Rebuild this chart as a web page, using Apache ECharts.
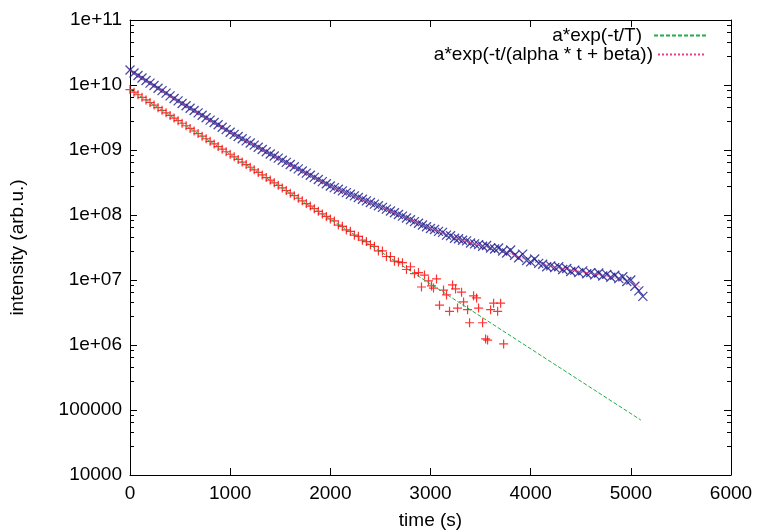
<!DOCTYPE html>
<html><head><meta charset="utf-8">
<script src="https://cdn.jsdelivr.net/npm/echarts@6/dist/echarts.min.js"></script>
<style>html,body{margin:0;padding:0;background:#fff}#c{width:757px;height:531px}</style>
</head><body><div id="c"></div>
<script>
const xTickValues = [0, 1000, 2000, 3000, 4000, 5000, 6000];
const yTickValues = [1e4, 1e5, 1e6, 1e7, 1e8, 1e9, 1e10, 1e11];
const yTickLabels = ['10000', '100000', '1e+06', '1e+07', '1e+08', '1e+09', '1e+10', '1e+11'];
const legendNames = ['a*exp(-t/T)', 'a*exp(-t/(alpha * t + beta))'];

const redTime = [0,40,80,120,160,200,240,280,320,360,400,440,480,520,560,600,640,680,720,760,800,840,880,920,960,
1000,1040,1080,1120,1160,1200,1240,1280,1320,1360,1400,1440,1480,1520,1560,1600,1640,1680,1720,1760,1800,1840,1880,1920,1960,
2000,2040,2080,2120,2160,2200,2240,2280,2320,2360,2400,2440,2480,2520,2560,2600,2640,2680,2720,2760,2800,2840,2880,
2910,2940,2980,3010,3030,3060,3090,3130,3160,3190,3220,3250,3270,3310,3330,3370,3390,3430,3460,3480,3520,3550,3570,3600,3630,3670,3700,3730];
const redIntensity = [8.5e9,7.76e9,7.08e9,6.46e9,5.89e9,5.38e9,4.91e9,4.48e9,4.08e9,3.73e9,3.40e9,3.10e9,2.83e9,2.58e9,2.36e9,2.15e9,1.96e9,1.79e9,1.63e9,1.49e9,1.36e9,1.24e9,1.13e9,1.03e9,9.4e8,
8.6e8,7.84e8,7.15e8,6.53e8,5.96e8,5.43e8,4.96e8,4.52e8,4.13e8,3.77e8,3.44e8,3.13e8,2.86e8,2.61e8,2.38e8,2.17e8,1.98e8,1.81e8,1.65e8,1.50e8,1.37e8,1.25e8,1.14e8,1.04e8,9.5e7,
8.7e7,8.1e7,7.0e7,6.7e7,5.9e7,5.6e7,4.9e7,4.7e7,4.1e7,3.9e7,3.5e7,3.3e7,2.8e7,2.8e7,2.3e7,2.3e7,1.95e7,1.9e7,1.85e7,1.45e7,1.6e7,1.25e7,1.3e7,
7.8e6,1.19e7,9.7e6,8.1e6,7.5e6,1.04e7,4.1e6,7.0e6,5.9e6,3.3e6,8.4e6,7.3e6,3.7e6,6.5e6,4.6e6,3.5e6,2.2e6,5.7e6,5.3e6,3.7e6,2.2e6,1.24e6,1.19e6,3.5e6,4.4e6,3.3e6,4.4e6,1.04e6];

const blueTime = [0,40,80,120,160,200,240,280,320,360,400,440,480,520,560,600,640,680,720,760,800,840,880,920,960,
1000,1040,1080,1120,1160,1200,1240,1280,1320,1360,1400,1440,1480,1520,1560,1600,1640,1680,1720,1760,1800,1840,1880,1920,1960,
2000,2040,2080,2120,2160,2200,2240,2280,2320,2360,2400,2440,2480,2520,2560,2600,2640,2680,2720,2760,2800,2840,2880,2920,2960,
3000,3040,3080,3120,3160,3200,3240,3280,3320,3360,3400,3440,3480,3520,3560,3600,3640,3680,3720,3760,3800,3840,3880,3920,3960,
4000,4040,4080,4120,4160,4200,4240,4280,4320,4360,4400,4440,4480,4520,4560,4600,4640,4680,4720,4760,4800,4840,4880,4920,4960,
5000,5040,5080,5120];
const blueIntensity = [1.70e10,1.53e10,1.40e10,1.28e10,1.17e10,1.07e10,9.8e9,8.9e9,8.2e9,7.5e9,6.8e9,6.2e9,5.7e9,5.2e9,4.8e9,4.4e9,4.05e9,3.72e9,3.42e9,3.14e9,2.88e9,2.65e9,2.44e9,2.24e9,2.06e9,
1.88e9,1.74e9,1.61e9,1.49e9,1.38e9,1.28e9,1.19e9,1.10e9,1.02e9,9.4e8,8.7e8,8.1e8,7.5e8,6.95e8,6.45e8,5.98e8,5.54e8,5.13e8,4.76e8,4.41e8,4.09e8,3.79e8,3.52e8,3.26e8,3.02e8,
2.80e8,2.64e8,2.49e8,2.35e8,2.21e8,2.09e8,1.97e8,1.86e8,1.75e8,1.65e8,1.56e8,1.47e8,1.39e8,1.31e8,1.23e8,1.155e8,1.085e8,1.02e8,9.6e7,9.0e7,8.45e7,7.9e7,7.45e7,7.0e7,6.6e7,
6.2e7,6.0e7,5.6e7,5.4e7,4.9e7,4.8e7,4.4e7,4.3e7,4.1e7,4.0e7,3.7e7,3.6e7,3.5e7,3.3e7,3.4e7,3.1e7,3.0e7,3.1e7,2.8e7,2.6e7,2.9e7,2.4e7,2.2e7,2.5e7,2.0e7,
1.9e7,2.1e7,1.8e7,1.75e7,1.6e7,1.65e7,1.55e7,1.6e7,1.45e7,1.5e7,1.35e7,1.42e7,1.3e7,1.38e7,1.25e7,1.3e7,1.2e7,1.28e7,1.15e7,1.22e7,1.1e7,1.18e7,1.05e7,1.12e7,9.5e6,
1.0e7,8.0e6,6.8e6,5.6e6];

const fitExpTime = [0, 5100];
const fitExpValue = [8.5e9, 7.0e4];
const fitHypTime = [0,250,500,750,1000,1250,1500,1750,2000,2250,2500,2750,3000,3250,3500,3750,4000,4250,4500,4750,5000,5100];
const fitHypValue = [1.66e10,9.3e9,5.37e9,3.16e9,1.86e9,1.15e9,7.08e8,4.37e8,2.75e8,1.86e8,1.32e8,9.2e7,6.2e7,4.4e7,3.4e7,2.7e7,1.95e7,1.58e7,1.35e7,1.15e7,9.5e6,7.6e6];

const zip = (a, b) => a.map((v, i) => [v, b[i]]);
const FONT = 'Liberation Sans, Arial, Helvetica, sans-serif';
const FS = 19;

const chart = echarts.init(document.getElementById('c'), null, {renderer: 'canvas'});
const baseX = {type: 'value', min: 0, max: 6000, interval: 1000, gridIndex: 0,
  splitLine: {show: false},
  axisLine: {show: true, onZero: false, lineStyle: {color: '#000', width: 1}},
  axisTick: {show: true, inside: true, length: 7, lineStyle: {color: '#000'}}};
const baseY = {type: 'log', logBase: 10, min: 1e4, max: 1e11, splitNumber: 7, gridIndex: 0,
  splitLine: {show: false},
  axisLine: {show: true, onZero: false, lineStyle: {color: '#000', width: 1}},
  axisTick: {show: true, inside: true, length: 7, lineStyle: {color: '#000'}},
  minorTick: {show: true, splitNumber: 5, length: 4, lineStyle: {color: '#000'}}};
const legendBase = {right: 50, padding: 0, itemHeight: 12, align: 'right',
  itemStyle: {color: 'rgba(0,0,0,0)', borderWidth: 0, opacity: 0},
  textStyle: {color: '#000', fontSize: FS, fontFamily: FONT}};

chart.setOption({
  animation: false,
  backgroundColor: '#fff',
  textStyle: {fontFamily: FONT},
  grid: {left: 130, top: 20, width: 601, height: 455, containLabel: false, outerBoundsMode: 'none'},
  xAxis: [
    Object.assign({}, baseX, {position: 'bottom', name: 'time (s)', nameLocation: 'middle', nameGap: 36,
      nameTextStyle: {color: '#000', fontSize: FS, fontFamily: FONT},
      axisLabel: {show: true, margin: 9, color: '#000', fontSize: FS, fontFamily: FONT,
        formatter: v => String(v)}}),
    Object.assign({}, baseX, {position: 'top', axisLabel: {show: false}})
  ],
  yAxis: [
    Object.assign({}, baseY, {position: 'left', name: 'intensity (arb.u.)', nameLocation: 'middle', nameGap: 103,
      nameRotate: 90,
      nameTextStyle: {color: '#000', fontSize: FS, fontFamily: FONT},
      axisLabel: {show: true, margin: 8, color: '#000', fontSize: FS, fontFamily: FONT,
        formatter: v => {
          const e = Math.round(Math.log10(v));
          const i = yTickValues.findIndex(t => Math.round(Math.log10(t)) === e);
          return i >= 0 ? yTickLabels[i] : '';
        }}}),
    Object.assign({}, baseY, {position: 'right', axisLabel: {show: false}})
  ],
  legend: [
    Object.assign({}, legendBase, {data: [legendNames[0]], top: 26, itemWidth: 52,
      textStyle: {color: '#000', fontSize: FS, fontFamily: FONT, padding: [0, 7, 0, 0]}}),
    Object.assign({}, legendBase, {data: [legendNames[1]], top: 45, itemWidth: 48})
  ],
  series: [
    {name: 'data1', type: 'scatter', data: zip(redTime, redIntensity), symbol: 'path://M0,5L10,5M5,0L5,10', symbolSize: 9,
      itemStyle: {color: '#ff0000', borderColor: '#ff0000', borderWidth: 1.2}, z: 3},
    {name: 'data2', type: 'scatter', data: zip(blueTime, blueIntensity), symbol: 'path://M0,0L10,10M10,0L0,10', symbolSize: 9,
      itemStyle: {color: '#1c1c8c', borderColor: '#1c1c8c', borderWidth: 1.3}, z: 3},
    {name: legendNames[0], type: 'line', data: zip(fitExpTime, fitExpValue), symbol: 'none', showSymbol: false,
      lineStyle: {color: '#1fae4a', width: 1, type: [4, 2]}, itemStyle: {color: '#1fae4a'}, z: 4},
    {name: legendNames[1], type: 'line', data: zip(fitHypTime, fitHypValue), symbol: 'none', showSymbol: false,
      lineStyle: {color: '#ee3b8a', width: 1, type: 'dotted'}, itemStyle: {color: '#ee3b8a'}, z: 4}
  ]
});
</script>
</body></html>
